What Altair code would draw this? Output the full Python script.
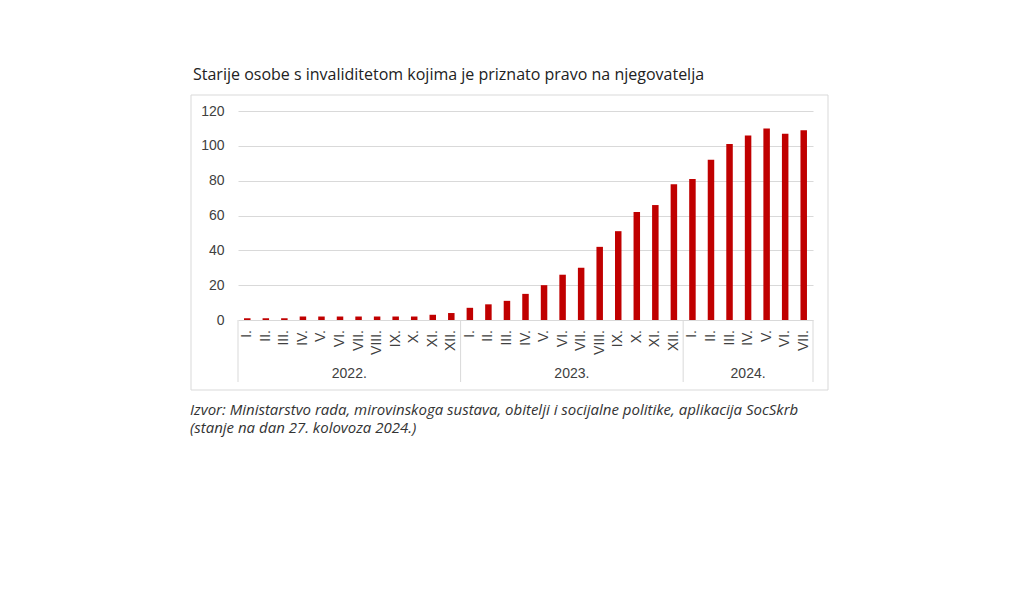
import altair as alt
import pandas as pd

title_text = "Starije osobe s invaliditetom kojima je priznato pravo na njegovatelja"
footer_lines = [
    "Izvor: Ministarstvo rada, mirovinskoga sustava, obitelji i socijalne politike, aplikacija SocSkrb",
    "(stanje na dan 27. kolovoza 2024.)",
]

years = ["2022.", "2023.", "2024."]
months_full = ["I.", "II.", "III.", "IV.", "V.", "VI.", "VII.", "VIII.", "IX.", "X.", "XI.", "XII."]
months_per_year = [12, 12, 7]

values_2022 = [1, 1, 1, 2, 2, 2, 2, 2, 2, 2, 3, 4]
values_2023 = [7, 9, 11, 15, 20, 26, 30, 42, 51, 62, 66, 78]
values_2024 = [81, 92, 101, 106, 110, 107, 109]
all_values = [values_2022, values_2023, values_2024]

y_ticks = [0, 20, 40, 60, 80, 100, 120]

rows = []
idx = 0
for yr, n, vals in zip(years, months_per_year, all_values):
    for m in range(n):
        rows.append({"year": yr, "month": months_full[m], "value": vals[m],
                     "pos": idx + 0.5})
        idx += 1
df = pd.DataFrame(rows)
total = idx

bounds = [0]
for n in months_per_year:
    bounds.append(bounds[-1] + n)
df_bounds = pd.DataFrame({"b": bounds})
df_years = pd.DataFrame({
    "year": years,
    "mid": [(bounds[i] + bounds[i + 1]) / 2 for i in range(len(years))],
})

W, H = 575, 209
FONT = "Liberation Sans"

xscale = alt.Scale(domain=[0, total], nice=False, zero=False, padding=0)

bars = alt.Chart(df).mark_bar(color="#c00000", size=6.5).encode(
    x=alt.X("pos:Q", scale=xscale, axis=None),
    y=alt.Y("value:Q", scale=alt.Scale(domain=[0, 120], nice=False),
            axis=alt.Axis(values=y_ticks, title=None, domain=False, ticks=False,
                          gridColor="#d9d9d9", labelFont=FONT, labelFontSize=14,
                          labelColor="#404040", labelPadding=14)),
)

month_labels = alt.Chart(df).mark_text(
    angle=270, align="right", baseline="middle", font=FONT, fontSize=14,
    color="#404040",
).encode(
    x=alt.X("pos:Q", scale=xscale),
    y=alt.value(H + 10),
    text="month:N",
)

seps = alt.Chart(df_bounds).mark_rule(color="#d9d9d9", strokeWidth=1).encode(
    x=alt.X("b:Q", scale=xscale),
    y=alt.value(H),
    y2=alt.value(H + 62),
)

year_labels = alt.Chart(df_years).mark_text(
    align="center", baseline="middle", font=FONT, fontSize=14, color="#404040",
).encode(
    x=alt.X("mid:Q", scale=xscale),
    y=alt.value(H + 54),
    text="year:N",
)

frame = alt.Chart(pd.DataFrame({"a": [0]})).mark_rect(
    fill=None, stroke="#d9d9d9", strokeWidth=1,
).encode(
    x=alt.value(-47), x2=alt.value(590), y=alt.value(-16), y2=alt.value(279),
)

title = alt.Chart(pd.DataFrame({"t": [title_text]})).mark_text(
    align="left", baseline="middle", font="Open Sans", fontSize=16, color="#222222",
).encode(x=alt.value(-45), y=alt.value(-36), text="t:N")

df_footer = pd.DataFrame({"t": footer_lines, "line": list(range(len(footer_lines)))})
footer = alt.Chart(df_footer).mark_text(
    align="left", baseline="middle", font="Open Sans", fontSize=15,
    fontStyle="italic", color="#333333",
).encode(
    x=alt.value(-48),
    y=alt.Y("line:Q", scale=alt.Scale(domain=[0, 1], range=[299, 317]), axis=None),
    text="t:N",
)

chart = alt.layer(frame, bars, seps, month_labels, year_labels, title, footer).resolve_scale(
    y="independent"
).properties(
    width=W, height=H,
    autosize=alt.AutoSizeParams(type="none"),
    padding={"left": 230, "top": 103, "right": 203, "bottom": 278},
    background="white",
).configure_view(strokeWidth=0)

chart.save("out.html", embed_options={"renderer": "svg", "actions": False})
